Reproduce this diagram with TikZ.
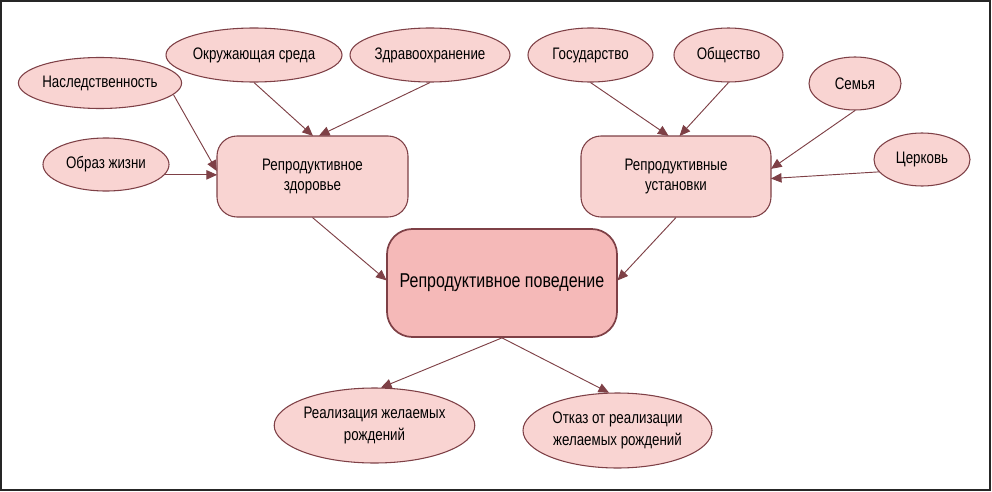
\documentclass[tikz,border=0pt]{standalone}
\usepackage{fontspec}
\setmainfont{Liberation Sans}[FakeStretch=0.8]
\usetikzlibrary{arrows.meta,calc,shapes.geometric}
\definecolor{edgec}{HTML}{7E4046}
\definecolor{ellfill}{HTML}{F9D4D2}
\definecolor{boxfill}{HTML}{F9D4D2}
\definecolor{mainfill}{HTML}{F5B9B8}
\tikzset{
  sz/.style 2 args={minimum width={#1*0.75pt}, minimum height={#2*0.75pt}},
  factor/.style={ellipse, draw=edgec, fill=ellfill, line width=0.8pt, inner sep=0pt,
    font=\fontsize{12.5}{16}\selectfont, align=center, text=black},
  midbox/.style={rectangle, rounded corners=15pt, draw=edgec, fill=boxfill, line width=0.8pt,
    inner sep=0pt, font=\fontsize{12.5}{14.3}\selectfont, align=center},
  mainbox/.style={rectangle, rounded corners=19pt, draw=edgec, fill=mainfill, line width=1.3pt,
    inner sep=0pt, font=\fontsize{15}{18}\selectfont, align=center},
  link/.style={draw=edgec, line width=0.7pt, -{Triangle[length=8pt,width=7pt]}, shorten >=-0.5pt}
}
\begin{document}
\begin{tikzpicture}[x=0.75pt,y=-0.75pt]
\useasboundingbox (0,0) rectangle (992,492);
\draw[line width=1.5pt, black!85] (1,1) rectangle (990,490);

% factor ellipses
\node[factor, sz={153}{51}] (nasl) at (100,83) {Наследственность};
\node[factor, sz={176}{54}] (env) at (254,55) {Окружающая среда};
\node[factor, sz={160}{54}] (zdrav) at (430,55) {Здравоохранение};
\node[factor, sz={126}{53}] (obraz) at (106,164.5) {Образ жизни};
\node[factor, sz={125}{54}] (gos) at (590.5,55) {Государство};
\node[factor, sz={109}{54}] (obsh) at (728.5,55) {Общество};
\node[factor, sz={92}{53}] (semya) at (855,83.5) {Семья};
\node[factor, sz={96}{53}] (cerk) at (922,159.5) {Церковь};

% boxes
\node[midbox, sz={191}{81}] (zd) at (312.5,176.5) {Репродуктивное\\здоровье};
\node[midbox, sz={190}{81}] (ust) at (676,176.5) {Репродуктивные\\установки};
\node[mainbox, sz={230}{108}] (pov) at (502,283) {Репродуктивное поведение};

% outcomes
\node[factor, sz={199}{75}] (real) at (374.5,425.5) {Реализация желаемых\\рождений};
\node[factor, sz={189}{75}] (otk) at (617.5,430.5) {Отказ от реализации\\желаемых рождений};

% connectors
\draw[link] (nasl.-9) -- ($(zd.west)+(0,-6)$);
\draw[link] (obraz.-10) -- (obraz.-10 -| zd.west);
\draw[link] (env.south) -- (zd.north);
\draw[link] (zdrav.south) -- ($(zd.north)+(7,0)$);
\draw[link] (gos.south) -- ($(ust.north)+(-8,0)$);
\draw[link] (obsh.south) -- ($(ust.north)+(4,0)$);
\draw[link] (semya.south) -- ($(ust.east)+(0,-8)$);
\draw[link] (cerk.196) -- ($(ust.east)+(0,2)$);
\draw[link] (zd.south) -- ($(pov.west)+(0,-3)$);
\draw[link] (ust.south) -- ($(pov.east)+(0,-3)$);
\draw[link] (pov.south) -- ($(real.north)+(7,0)$);
\draw[link] (pov.south) -- ($(otk.north)+(-9,0)$);
\end{tikzpicture}
\end{document}
